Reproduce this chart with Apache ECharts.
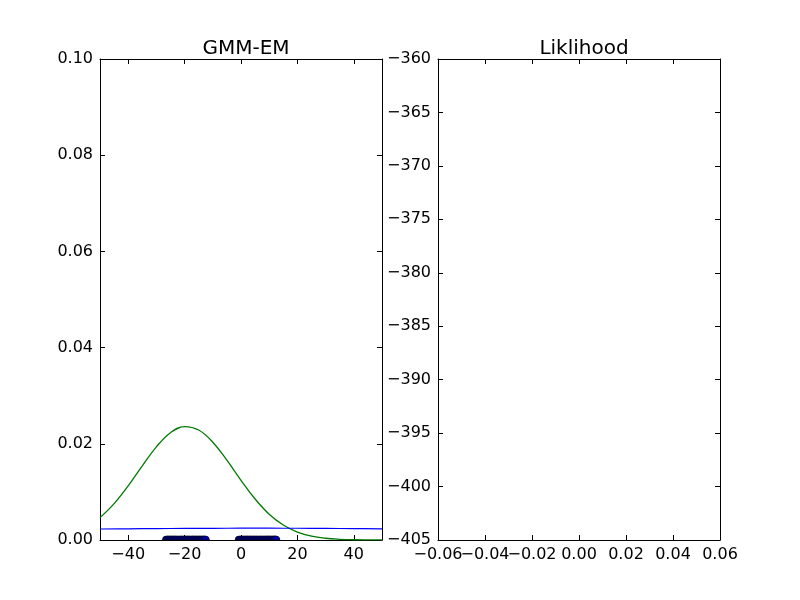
<!DOCTYPE html>
<html>
<head>
<meta charset="utf-8">
<script src="https://cdn.jsdelivr.net/npm/echarts@6/dist/echarts.min.js"></script>
<style>html,body{margin:0;padding:0;background:#fff}#c{width:800px;height:600px}</style>
</head>
<body>
<div id="c"></div>
<script>
// Green component curve (x, density)
const greenX = [-50,-45,-40,-35,-30,-25,-20,-15,-10,-5,0,5,10,15,20,25,30,35,40,45,50];
const greenY = [0.00465,0.00756,0.01127,0.01543,0.01937,0.02231,0.02358,0.02286,0.02033,0.01659,0.01242,0.00853,0.00537,0.00311,0.00165,0.00080,0.00036,0.00015,0.000055,0.00002,0.000006];
// Blue component curve (nearly flat)
const blueX = [-50,-40,-30,-20,-10,0,10,20,30,40,50];
const blueY = [0.00229,0.00233,0.00237,0.00240,0.00243,0.00245,0.00245,0.00244,0.00241,0.00237,0.00233];
// Sample points on the x axis
const samplesX = [-26.5,-26.1,-25.8,-25.4,-25.1,-24.7,-24.3,-24.0,-23.6,-23.2,-22.9,-22.4,-22.0,-21.6,-21.2,-20.9,-20.5,-20.1,-19.8,-19.4,
                  -19.0,-18.7,-18.3,-17.8,-17.4,-17.1,-16.8,-16.4,-16.0,-15.7,-15.3,-14.9,-14.6,-14.2,-13.9,-13.5,-13.2,-12.9,-12.6,
                  -0.7,-0.3,0.1,0.4,0.8,1.2,1.6,2.0,2.3,2.7,3.1,3.4,3.8,4.2,4.6,4.9,5.3,5.6,6.0,6.4,6.8,7.1,7.5,7.9,8.3,8.7,
                  9.1,9.4,9.8,10.1,10.5,10.9,11.3,11.6,11.9,12.2,12.4];
// Tick labels
const leftXTicks = [-40,-20,0,20,40];
const rightXTicks = [-0.06,-0.04,-0.02,0,0.02,0.04,0.06];
const titles = ['GMM-EM','Liklihood'];

const font = 'DejaVu Sans';
const minus = s => String(s).replace('-', '\u2212');
const fmt2 = v => minus((Math.abs(v)<1e-9?0:v).toFixed(2));

const chart = echarts.init(document.getElementById('c'), null, {renderer:'canvas'});

function axisCommon(showLabel, pos){
  return {
    position: pos,
    axisLine:{show:true, onZero:false, lineStyle:{color:'#000', width:1}},
    axisTick:{show:true, inside:true, length:5, lineStyle:{color:'#000', width:1}},
    splitLine:{show:false},
    axisLabel:{show:showLabel, color:'#000', fontFamily:font, fontSize:16, margin:7, showMinLabel:true, showMaxLabel:true, hideOverlap:false}
  };
}

function xLeft(pos, showLabel){
  const a = axisCommon(showLabel, pos);
  a.type='value'; a.gridIndex=0; a.min=-50; a.max=50;
  a.axisTick.customValues = leftXTicks;
  a.axisLabel.customValues = leftXTicks;
  a.axisLabel.formatter = v => minus(v);
  return a;
}
function yLeft(pos, showLabel){
  const a = axisCommon(showLabel, pos);
  a.type='value'; a.gridIndex=0; a.min=0; a.max=0.1; a.interval=0.02;
  a.axisLabel.formatter = v => v.toFixed(2);
  return a;
}
// labelSet: 'even' / 'odd' / 'none' — split labels over two coincident axes so none gets auto-hidden
function xRight(pos, labelSet, withTicks){
  const a = axisCommon(labelSet !== 'none', pos);
  a.type='value'; a.gridIndex=1; a.min=-0.06; a.max=0.06; a.offset=0;
  a.axisTick.customValues = rightXTicks;
  a.axisTick.show = withTicks;
  a.axisLine.show = withTicks;
  const lv = rightXTicks.filter((v,i)=> labelSet==='even' ? i%2===0 : labelSet==='odd' ? i%2===1 : false);
  a.axisLabel.customValues = lv.length ? lv : rightXTicks;
  a.axisLabel.formatter = fmt2;
  return a;
}
function yRight(pos, showLabel){
  const a = axisCommon(showLabel, pos);
  a.type='value'; a.gridIndex=1; a.min=-405; a.max=-360; a.interval=5;
  a.axisLabel.formatter = v => minus(v);
  return a;
}

const option = {
  animation:false,
  backgroundColor:'#fff',
  title: [
    {text:titles[0], left:241, top:34, textAlign:'center', textStyle:{fontFamily:font, fontSize:20, fontWeight:'normal', color:'#000'}},
    {text:titles[1], left:579, top:34, textAlign:'center', textStyle:{fontFamily:font, fontSize:20, fontWeight:'normal', color:'#000'}}
  ],
  grid: [
    {left:100, top:59, width:282, height:481},
    {left:438, top:59, width:282, height:481}
  ],
  xAxis: [xLeft('bottom', true), xLeft('top', false),
          xRight('bottom', 'even', true), xRight('top', 'none', true), xRight('bottom', 'odd', false)],
  yAxis: [yLeft('left', true), yLeft('right', false), yRight('left', true), yRight('right', false)],
  series: [
    {type:'line', xAxisIndex:0, yAxisIndex:0, data: greenX.map((x,i)=>[x,greenY[i]]), smooth:0.4, showSymbol:false, clip:true,
     lineStyle:{color:'#007a00', width:1.3}},
    {type:'line', xAxisIndex:0, yAxisIndex:0, data: blueX.map((x,i)=>[x,blueY[i]]), smooth:0.4, showSymbol:false, clip:true,
     lineStyle:{color:'#0000ff', width:1.2}},
    {type:'scatter', xAxisIndex:0, yAxisIndex:0, data: samplesX.map(x=>[x,0]), clip:true,
     symbol:'path://M0,10 A10,10 0 0 1 20,10 Z', symbolSize:[8,4], symbolOffset:[0,-2], symbolKeepAspect:false,
     itemStyle:{color:'#0000aa', borderColor:'#000', borderWidth:0.5, opacity:1}}
  ]
};
chart.setOption(option);
</script>
</body>
</html>
